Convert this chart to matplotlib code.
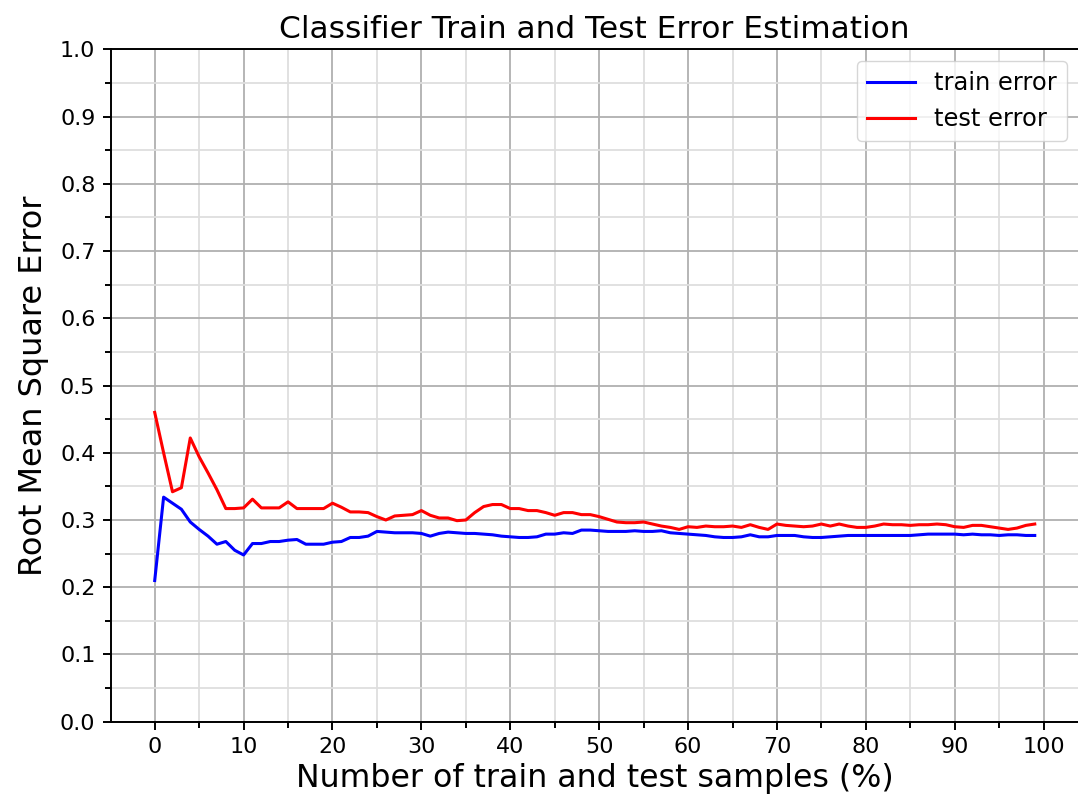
import matplotlib
matplotlib.use("Agg")
import matplotlib.pyplot as plt
from matplotlib.ticker import MultipleLocator

samples = list(range(100))

train_error = [
    0.210, 0.334, 0.325, 0.316, 0.297, 0.286, 0.276, 0.264, 0.268, 0.255,
    0.248, 0.265, 0.265, 0.268, 0.268, 0.270, 0.271, 0.264, 0.264, 0.264,
    0.267, 0.268, 0.274, 0.274, 0.276, 0.283, 0.282, 0.281, 0.281, 0.281,
    0.280, 0.276, 0.280, 0.282, 0.281, 0.280, 0.280, 0.279, 0.278, 0.276,
    0.275, 0.274, 0.274, 0.275, 0.279, 0.279, 0.281, 0.280, 0.285, 0.285,
    0.284, 0.283, 0.283, 0.283, 0.284, 0.283, 0.283, 0.284, 0.281, 0.280,
    0.279, 0.278, 0.277, 0.275, 0.274, 0.274, 0.275, 0.278, 0.275, 0.275,
    0.277, 0.277, 0.277, 0.275, 0.274, 0.274, 0.275, 0.276, 0.277, 0.277,
    0.277, 0.277, 0.277, 0.277, 0.277, 0.277, 0.278, 0.279, 0.279, 0.279,
    0.279, 0.278, 0.279, 0.278, 0.278, 0.277, 0.278, 0.278, 0.277, 0.277,
]

test_error = [
    0.460, 0.400, 0.342, 0.348, 0.422, 0.394, 0.370, 0.345, 0.317, 0.317,
    0.318, 0.331, 0.318, 0.318, 0.318, 0.327, 0.317, 0.317, 0.317, 0.317,
    0.325, 0.319, 0.312, 0.312, 0.311, 0.305, 0.300, 0.306, 0.307, 0.308,
    0.314, 0.307, 0.303, 0.303, 0.299, 0.300, 0.311, 0.320, 0.323, 0.323,
    0.317, 0.317, 0.314, 0.314, 0.311, 0.307, 0.311, 0.311, 0.308, 0.308,
    0.305, 0.301, 0.297, 0.296, 0.296, 0.297, 0.294, 0.291, 0.289, 0.286,
    0.290, 0.289, 0.291, 0.290, 0.290, 0.291, 0.289, 0.293, 0.289, 0.286,
    0.294, 0.292, 0.291, 0.290, 0.291, 0.294, 0.291, 0.294, 0.291, 0.289,
    0.289, 0.291, 0.294, 0.293, 0.293, 0.292, 0.293, 0.293, 0.294, 0.293,
    0.290, 0.289, 0.292, 0.292, 0.290, 0.288, 0.286, 0.288, 0.292, 0.294,
]

fig = plt.figure(figsize=(10.78, 8.02), dpi=100)
ax = fig.add_axes([0.1027, 0.1001, 0.898, 0.8384])

ax.plot(samples, train_error, color='blue', lw=2.2, label='train error')
ax.plot(samples, test_error, color='red', lw=2.2, label='test error')

ax.set_ylim(0, 1)
ax.xaxis.set_major_locator(MultipleLocator(10))
ax.xaxis.set_minor_locator(MultipleLocator(5))
ax.yaxis.set_major_locator(MultipleLocator(0.1))
ax.yaxis.set_minor_locator(MultipleLocator(0.05))
ax.grid(which='major', color='#b0b0b0', lw=1.3)
ax.grid(which='minor', color='#dedede', lw=1.3)
ax.set_axisbelow(True)

ax.tick_params(which='major', labelsize=16, length=6, width=1.4, pad=5)
ax.tick_params(which='minor', length=4, width=1.4)
for s in ax.spines.values():
    s.set_linewidth(1.4)

ax.set_title('Classifier Train and Test Error Estimation', fontsize=22.5, pad=8)
ax.set_xlabel('Number of train and test samples (%)', fontsize=22.8, labelpad=4)
ax.set_ylabel('Root Mean Square Error', fontsize=23, labelpad=8)
ax.legend(loc='upper right', fontsize=17.4)

fig.savefig('out.png', dpi=100)
plt.close()
